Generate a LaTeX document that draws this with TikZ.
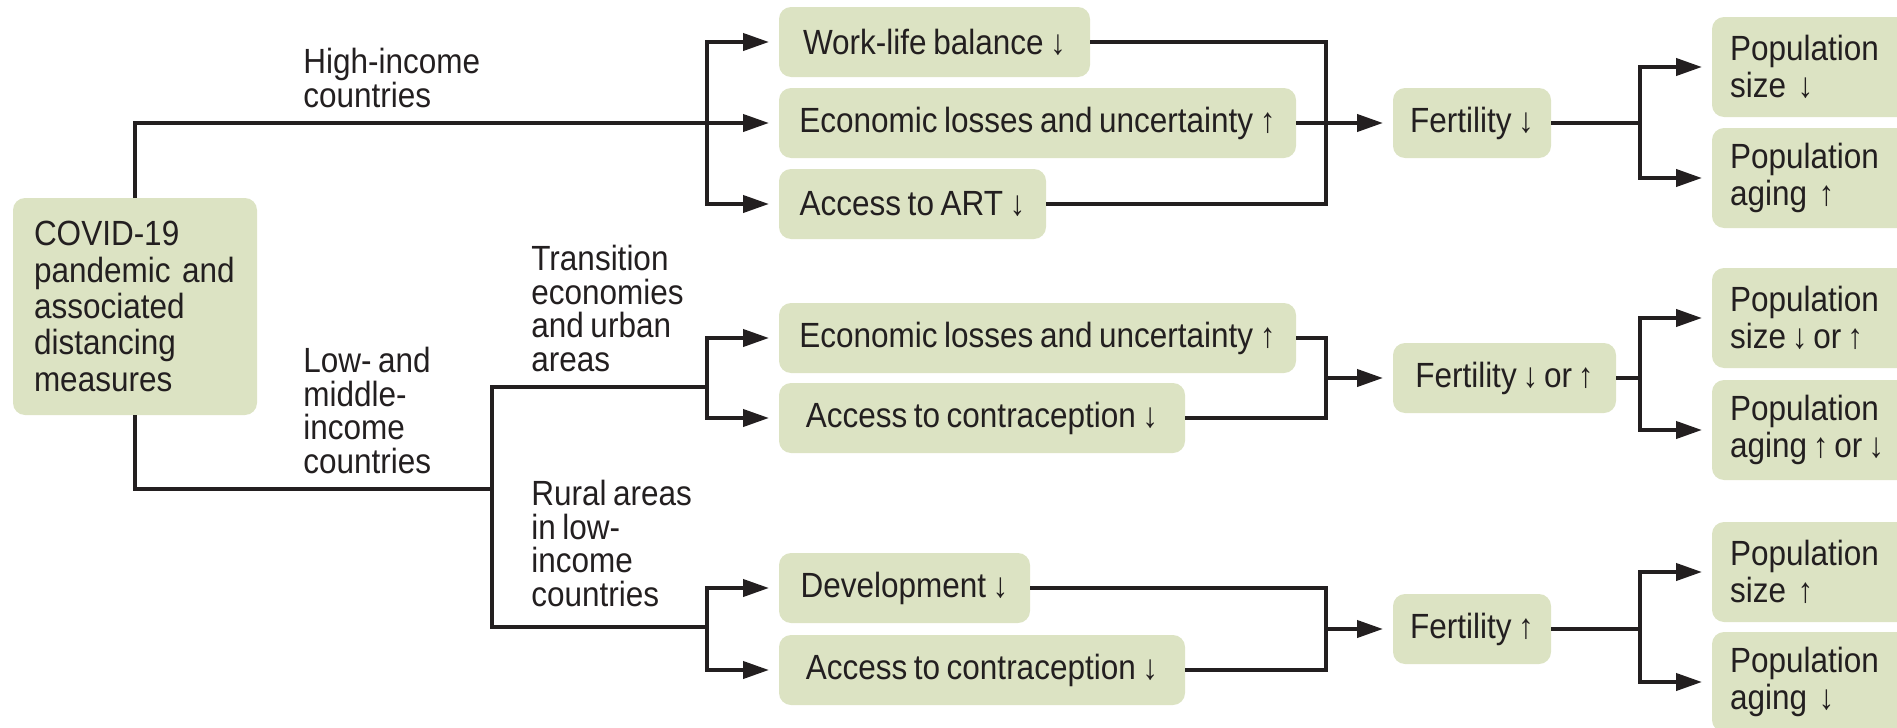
\documentclass[tikz,border=0pt]{standalone}
\usepackage{fontspec}
\setmainfont{Liberation Sans}[FakeStretch=0.9, WordSpace=0.75]
\usetikzlibrary{arrows.meta}
\definecolor{boxgreen}{HTML}{DCE3C3}
\definecolor{ink}{HTML}{231F20}
\tikzset{>={Triangle[length=13pt,width=8.5pt]}}
\tikzset{
  factor/.style={fill=boxgreen, rounded corners=6pt, anchor=west, inner xsep=8pt, inner ysep=0pt, outer sep=0pt, minimum height=35pt, text=ink, font=\fontsize{17.5pt}{18.2pt}\selectfont},
  outcome/.style={factor, align=left, inner xsep=9pt, minimum height=50pt, text width=100pt},
  branch/.style={anchor=north west, align=left, inner sep=0pt, text=ink, font=\fontsize{17.5pt}{16.8pt}\selectfont},
  link/.style={draw=ink, line width=2pt},
}

\begin{document}
\begin{tikzpicture}[x=0.5pt, y=-0.5pt]
                \useasboundingbox (0,0) rectangle (1897,728);
                \clip (0,0) rectangle (1897,728);
                % cause
                \node[factor, align=left, text width=101pt, inner xsep=10.5pt, minimum height=108.5pt] (covid) at (13,306.5) {COVID-19\\pandemic and\\associated\\distancing\\measures};
                \node[branch] (high) at (303,48) {High-income\\countries};
                \node[branch] (lmic) at (303,347) {Low- and\\middle-\\income\\countries};
                \node[branch] (trans) at (531,245) {Transition\\economies\\and urban\\areas};
                \node[branch] (rural) at (531,480) {Rural areas\\in low-\\income\\countries};
                % high-income branch
                \node[factor, minimum width=155.5pt] (wlb) at (779,42) {Work-life balance ↓};
                \node[factor, minimum width=258.5pt] (ecoH) at (779,123) {Economic losses and uncertainty ↑};
                \node[factor, minimum width=133.5pt] (art) at (779,204) {Access to ART ↓};
                \node[factor, minimum width=79pt] (fertH) at (1393,123) {Fertility ↓};
                \node[outcome] (sizeH) at (1712,67) {Population\\size ↓};
                \node[outcome] (agingH) at (1712,178) {Population\\aging ↑};
                % transition branch
                \node[factor, minimum width=258.5pt] (ecoM) at (779,338) {Economic losses and uncertainty ↑};
                \node[factor, minimum width=203pt] (contraM) at (779,418) {Access to contraception ↓};
                \node[factor, minimum width=111.5pt] (fertM) at (1393,378) {Fertility\,↓\,or\,↑};
                \node[outcome] (sizeM) at (1712,318) {Population\\size\,↓\,or\,↑};
                \node[outcome] (agingM) at (1712,430) {Population\\aging\,↑\,or\,↓};
                % rural branch
                \node[factor, minimum width=125.5pt] (devL) at (779,588) {Development ↓};
                \node[factor, minimum width=203pt] (contraL) at (779,670) {Access to contraception ↓};
                \node[factor, minimum width=79pt] (fertL) at (1393,629) {Fertility ↑};
                \node[outcome] (sizeL) at (1712,572) {Population\\size ↑};
                \node[outcome] (agingL) at (1712,682) {Population\\aging ↓};
                % junctions
                \coordinate (splitH) at (707,123);
                \coordinate (joinH) at (1326,123);
                \coordinate (forkH) at (1640,123);
                \coordinate (lowIn) at (492,489);
                \coordinate (lowTop) at (492,387);
                \coordinate (lowBot) at (492,627);
                \coordinate (splitM) at (707,387);
                \coordinate (splitL) at (707,627);
                \coordinate (joinM) at (1326,378);
                \coordinate (forkM) at (1640,378);
                \coordinate (joinL) at (1326,629);
                \coordinate (forkL) at (1640,629);
                % high-income connectors
                \draw[link, ->, shorten >=5pt] (covid.north) |- (ecoH.west);
                \draw[link, ->, shorten >=5pt] (splitH) |- (wlb.west);
                \draw[link, ->, shorten >=5pt] (splitH) |- (art.west);
                \draw[link] (wlb.east) -| (joinH) |- (art.east);
                \draw[link, ->, shorten >=5pt] (ecoH.east) -- (fertH.west);
                \draw[link] (fertH.east) -- (forkH);
                \draw[link, ->, shorten >=5pt] (forkH) |- (sizeH.west);
                \draw[link, ->, shorten >=5pt] (forkH) |- (agingH.west);
                % low- and middle-income connectors
                \draw[link] (covid.south) |- (lowIn);
                \draw[link] (splitM) -- (lowTop) -- (lowBot) -- (splitL);
                \draw[link, ->, shorten >=5pt] (splitM) |- (ecoM.west);
                \draw[link, ->, shorten >=5pt] (splitM) |- (contraM.west);
                \draw[link] (ecoM.east) -| (joinM) |- (contraM.east);
                \draw[link, ->, shorten >=5pt] (joinM) -- (fertM.west);
                \draw[link] (fertM.east) -- (forkM);
                \draw[link, ->, shorten >=5pt] (forkM) |- (sizeM.west);
                \draw[link, ->, shorten >=5pt] (forkM) |- (agingM.west);
                \draw[link, ->, shorten >=5pt] (splitL) |- (devL.west);
                \draw[link, ->, shorten >=5pt] (splitL) |- (contraL.west);
                \draw[link] (devL.east) -| (joinL) |- (contraL.east);
                \draw[link, ->, shorten >=5pt] (joinL) -- (fertL.west);
                \draw[link] (fertL.east) -- (forkL);
                \draw[link, ->, shorten >=5pt] (forkL) |- (sizeL.west);
                \draw[link, ->, shorten >=5pt] (forkL) |- (agingL.west);
            \end{tikzpicture}
\end{document}
